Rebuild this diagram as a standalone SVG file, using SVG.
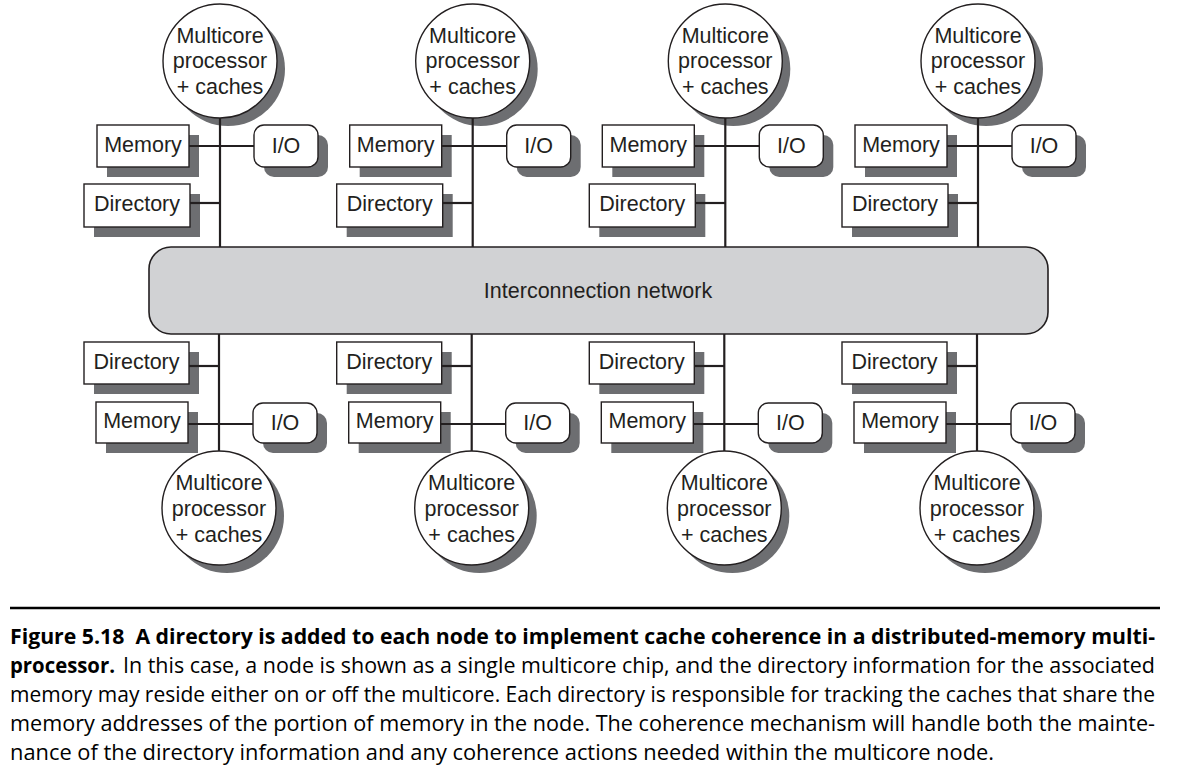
<svg xmlns="http://www.w3.org/2000/svg" width="1189" height="771" viewBox="0 0 1189 771">
<style>
.sh{fill:#6d6e71}
.bx{fill:#fff;stroke:#231f20;stroke-width:1.4}
.net{fill:#d1d2d4;stroke:#231f20;stroke-width:1.6}
.t{font-family:"Liberation Sans",Arial,sans-serif;font-size:21.5px;fill:#231f20;text-anchor:middle}
.cn line{stroke:#231f20;stroke-width:2.2}
.cap{font-family:"Open Sans","Noto Sans",sans-serif;font-size:21.7px;fill:#000}
.b{font-weight:bold}
</style>
<rect width="1189" height="771" fill="#fff"/>
<defs>
<g id="topProc"><circle class="sh" cx="228" cy="69" r="57"/><circle class="bx" cx="220" cy="61" r="57"/><text class="t" x="220" y="43">Multicore</text><text class="t" x="220" y="68">processor</text><text class="t" x="220" y="94">+ caches</text></g>
<g id="topMem"><rect class="sh" x="107" y="135" width="92" height="42"/><rect class="bx" x="97" y="125" width="92" height="42"/><text class="t" x="143" y="152">Memory</text></g>
<g id="topIO"><rect class="sh" x="264" y="135" width="64" height="42" rx="10"/><rect class="bx" x="254" y="125" width="64" height="42" rx="10"/><text class="t" x="286" y="153">I/O</text></g>
<g id="topDir"><rect class="sh" x="94" y="194" width="106" height="43"/><rect class="bx" x="84" y="184" width="106" height="43"/><text class="t" x="137" y="211">Directory</text></g>
<g id="botDir"><rect class="sh" x="94" y="352" width="105" height="42"/><rect class="bx" x="84" y="342" width="105" height="42"/><text class="t" x="136.5" y="369">Directory</text></g>
<g id="botMem"><rect class="sh" x="106" y="412" width="92" height="41"/><rect class="bx" x="96" y="402" width="92" height="41"/><text class="t" x="142" y="428">Memory</text></g>
<g id="botIO"><rect class="sh" x="263" y="413" width="64" height="40" rx="10"/><rect class="bx" x="253" y="403" width="64" height="40" rx="10"/><text class="t" x="285" y="430">I/O</text></g>
<g id="botProc"><circle class="sh" cx="227" cy="516" r="57"/><circle class="bx" cx="219" cy="508" r="57"/><text class="t" x="219" y="490">Multicore</text><text class="t" x="219" y="516">processor</text><text class="t" x="219" y="542">+ caches</text></g>
</defs>

<g id="network"><rect class="net" x="149" y="247" width="899" height="87" rx="22"/><text class="t" x="598" y="298">Interconnection network</text></g>

<g id="node1-top"><use href="#topProc"/><use href="#topMem"/><use href="#topIO"/><use href="#topDir"/></g>
<g id="node2-top" transform="translate(252.7,0)"><use href="#topProc"/><use href="#topMem"/><use href="#topIO"/><use href="#topDir"/></g>
<g id="node3-top" transform="translate(505.3,0)"><use href="#topProc"/><use href="#topMem"/><use href="#topIO"/><use href="#topDir"/></g>
<g id="node4-top" transform="translate(758,0)"><use href="#topProc"/><use href="#topMem"/><use href="#topIO"/><use href="#topDir"/></g>
<g id="node1-bot"><use href="#botDir"/><use href="#botMem"/><use href="#botIO"/><use href="#botProc"/></g>
<g id="node2-bot" transform="translate(252.7,0)"><use href="#botDir"/><use href="#botMem"/><use href="#botIO"/><use href="#botProc"/></g>
<g id="node3-bot" transform="translate(505.3,0)"><use href="#botDir"/><use href="#botMem"/><use href="#botIO"/><use href="#botProc"/></g>
<g id="node4-bot" transform="translate(758,0)"><use href="#botDir"/><use href="#botMem"/><use href="#botIO"/><use href="#botProc"/></g>

<g id="connectors" class="cn">
<g id="c1"><line x1="220" y1="118" x2="220" y2="247"/><line x1="189" y1="146" x2="254" y2="146"/><line x1="190" y1="203" x2="220" y2="203"/><line x1="219" y1="334" x2="219" y2="451"/><line x1="189" y1="366" x2="219" y2="366"/><line x1="188" y1="424" x2="253" y2="424"/></g>
<g transform="translate(252.7,0)"><line x1="220" y1="118" x2="220" y2="247"/><line x1="189" y1="146" x2="254" y2="146"/><line x1="190" y1="203" x2="220" y2="203"/><line x1="219" y1="334" x2="219" y2="451"/><line x1="189" y1="366" x2="219" y2="366"/><line x1="188" y1="424" x2="253" y2="424"/></g>
<g transform="translate(505.3,0)"><line x1="220" y1="118" x2="220" y2="247"/><line x1="189" y1="146" x2="254" y2="146"/><line x1="190" y1="203" x2="220" y2="203"/><line x1="219" y1="334" x2="219" y2="451"/><line x1="189" y1="366" x2="219" y2="366"/><line x1="188" y1="424" x2="253" y2="424"/></g>
<g transform="translate(758,0)"><line x1="220" y1="118" x2="220" y2="247"/><line x1="189" y1="146" x2="254" y2="146"/><line x1="190" y1="203" x2="220" y2="203"/><line x1="219" y1="334" x2="219" y2="451"/><line x1="189" y1="366" x2="219" y2="366"/><line x1="188" y1="424" x2="253" y2="424"/></g>
</g>

<g id="caption">
<line x1="10" y1="608" x2="1160" y2="608" stroke="#000" stroke-width="2.5"/>
<text class="cap b" x="10" y="644" textLength="1145" lengthAdjust="spacingAndGlyphs">Figure 5.18&#160; A directory is added to each node to implement cache coherence in a distributed-memory multi-</text>
<text class="cap b" x="10" y="673" textLength="105" lengthAdjust="spacingAndGlyphs">processor.</text>
<text class="cap" x="123" y="673" textLength="1032" lengthAdjust="spacingAndGlyphs">In this case, a node is shown as a single multicore chip, and the directory information for the associated</text>
<text class="cap" x="10" y="702" textLength="1145" lengthAdjust="spacingAndGlyphs">memory may reside either on or off the multicore. Each directory is responsible for tracking the caches that share the</text>
<text class="cap" x="10" y="731" textLength="1145" lengthAdjust="spacingAndGlyphs">memory addresses of the portion of memory in the node. The coherence mechanism will handle both the mainte-</text>
<text class="cap" x="10" y="760" textLength="984" lengthAdjust="spacingAndGlyphs">nance of the directory information and any coherence actions needed within the multicore node.</text>
</g>
</svg>
